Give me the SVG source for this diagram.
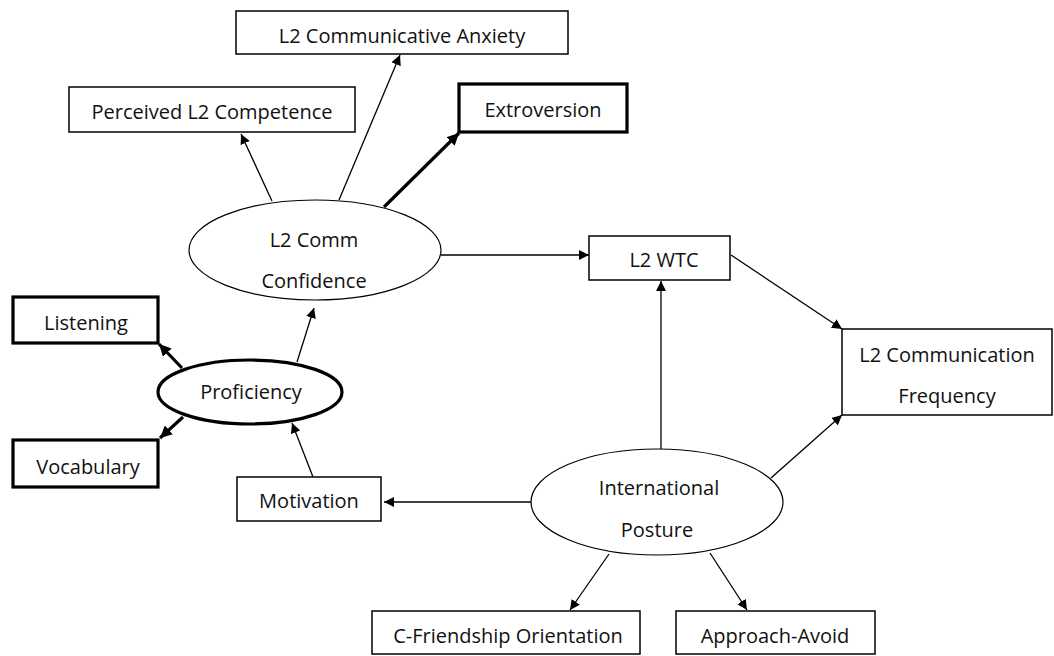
<svg xmlns="http://www.w3.org/2000/svg" width="1054" height="656" viewBox="0 0 1054 656">
  <style>
    .box { fill: #fff; stroke: #000; stroke-width: 1.5; }
    .box.bold { stroke-width: 3.2; }
    .oval { fill: #fff; stroke: #000; stroke-width: 1.2; }
    .oval.bold { stroke-width: 3.2; }
    .lbl { font-family: "Open Sans", "DejaVu Sans", sans-serif; font-size: 20px; fill: #111; text-anchor: middle; }
    .edge { stroke: #000; stroke-width: 1.3; fill: none; marker-end: url(#arr); }
    .edge.bold { stroke-width: 3.2; marker-end: url(#arrB); }
  </style>
  <defs>
    <marker id="arr" viewBox="0 0 10 10" refX="10" refY="5" markerWidth="10" markerHeight="10" markerUnits="userSpaceOnUse" orient="auto">
      <path d="M0,0 L10,5 L0,10 z" fill="#000"/>
    </marker>
    <marker id="arrB" viewBox="0 0 10 10" refX="10" refY="5" markerWidth="12" markerHeight="12" markerUnits="userSpaceOnUse" orient="auto">
      <path d="M0,0 L10,5 L0,10 z" fill="#000"/>
    </marker>
  </defs>

  <g id="connectors">
    <line class="edge" x1="272" y1="201" x2="241" y2="134"/>
    <line class="edge" x1="339" y1="200" x2="400" y2="55"/>
    <line class="edge bold" x1="384" y1="207" x2="459" y2="133"/>
    <line class="edge" x1="441" y1="255" x2="589" y2="255"/>
    <line class="edge bold" x1="182" y1="368" x2="159" y2="344"/>
    <line class="edge bold" x1="183" y1="417" x2="160" y2="438"/>
    <line class="edge" x1="297" y1="362" x2="314" y2="308"/>
    <line class="edge" x1="313" y1="477" x2="292" y2="423"/>
    <line class="edge" x1="661" y1="449" x2="661" y2="281"/>
    <line class="edge" x1="731" y1="255" x2="842" y2="329"/>
    <line class="edge" x1="771" y1="478" x2="842" y2="415"/>
    <line class="edge" x1="532" y1="502" x2="384" y2="502"/>
    <line class="edge" x1="609" y1="554" x2="570" y2="610"/>
    <line class="edge" x1="710" y1="553" x2="747" y2="610"/>
  </g>

  <g id="anxiety">
    <rect class="box" x="236" y="11" width="332" height="43"/>
    <text class="lbl" x="402" y="43">L2 Communicative Anxiety</text>
  </g>
  <g id="competence">
    <rect class="box" x="69" y="87" width="286" height="45"/>
    <text class="lbl" x="212" y="119">Perceived L2 Competence</text>
  </g>
  <g id="extroversion">
    <rect class="box bold" x="459" y="84" width="168" height="48"/>
    <text class="lbl" x="543" y="117">Extroversion</text>
  </g>
  <g id="confidence">
    <ellipse class="oval" cx="315" cy="250" rx="126" ry="50"/>
    <text class="lbl" x="314" y="247">L2 Comm</text>
    <text class="lbl" x="314" y="288">Confidence</text>
  </g>
  <g id="wtc">
    <rect class="box" x="589" y="236" width="141" height="44"/>
    <text class="lbl" x="664" y="267">L2 WTC</text>
  </g>
  <g id="frequency">
    <rect class="box" x="842" y="329" width="210" height="86"/>
    <text class="lbl" x="947" y="362">L2 Communication</text>
    <text class="lbl" x="947" y="403">Frequency</text>
  </g>
  <g id="listening">
    <rect class="box bold" x="13" y="297" width="145" height="46"/>
    <text class="lbl" x="86" y="330">Listening</text>
  </g>
  <g id="vocabulary">
    <rect class="box bold" x="13" y="440" width="145" height="47"/>
    <text class="lbl" x="88" y="474">Vocabulary</text>
  </g>
  <g id="proficiency">
    <ellipse class="oval bold" cx="250" cy="392" rx="92" ry="32"/>
    <text class="lbl" x="251" y="399">Proficiency</text>
  </g>
  <g id="motivation">
    <rect class="box" x="237" y="477" width="144" height="44"/>
    <text class="lbl" x="309" y="508">Motivation</text>
  </g>
  <g id="posture">
    <ellipse class="oval" cx="657" cy="502" rx="126" ry="53"/>
    <text class="lbl" x="659" y="495">International</text>
    <text class="lbl" x="657" y="537">Posture</text>
  </g>
  <g id="friendship">
    <rect class="box" x="372" y="611" width="268" height="43"/>
    <text class="lbl" x="508" y="643">C-Friendship Orientation</text>
  </g>
  <g id="approach">
    <rect class="box" x="676" y="611" width="199" height="43"/>
    <text class="lbl" x="775" y="643">Approach-Avoid</text>
  </g>
</svg>
